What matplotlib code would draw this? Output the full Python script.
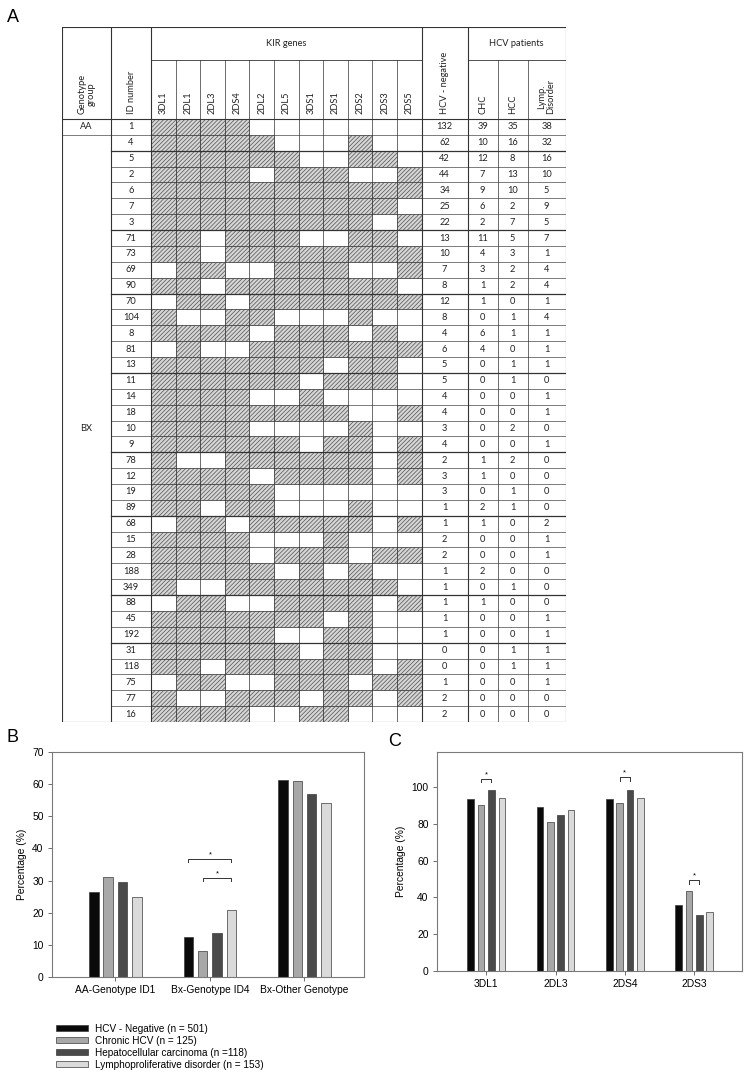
import matplotlib
matplotlib.use("Agg")
import matplotlib.pyplot as plt
from matplotlib.patches import Rectangle
import numpy as np

# ---- panel A data ----
genes = ["3DL1", "2DL1", "2DL3", "2DS4", "2DL2", "2DL5", "3DS1", "2DS1", "2DS2", "2DS3", "2DS5"]
id_numbers = [1, 4, 5, 2, 6, 7, 3, 71, 73, 69, 90, 70, 104, 8, 81, 13, 11, 14, 18, 10,
              9, 78, 12, 19, 89, 68, 15, 28, 188, 349, 88, 45, 192, 31, 118, 75, 77, 16]
# one string per ID row, 1 = gene present (hatched cell)
gene_presence = [
    "11110000000", "11111000100", "11111100110", "11110111001", "11111111111",
    "11111111110", "11111111101", "11011100110", "11011111111", "01100111001",
    "11011111110", "01101111111", "10011000100", "11110111010", "01001111111",
    "11111110110", "11111101110", "11110010000", "11111111001", "11110000100",
    "11111101101", "10011111101", "11110111101", "11111000000", "11011000100",
    "01101111101", "11110001000", "11110111011", "11111010100", "10011111110",
    "01100111101", "11111110100", "11111001100", "11111101100", "11011111101",
    "01100111011", "10011101101", "11110011000",
]
hcv_negative = [132, 62, 42, 44, 34, 25, 22, 13, 10, 7, 8, 12, 8, 4, 6, 5, 5, 4, 4, 3,
                4, 2, 3, 3, 1, 1, 2, 2, 1, 1, 1, 1, 1, 0, 0, 1, 2, 2]
chc = [39, 10, 12, 7, 9, 6, 2, 11, 4, 3, 1, 1, 0, 6, 4, 0, 0, 0, 0, 0,
       0, 1, 1, 0, 2, 1, 0, 0, 2, 0, 1, 0, 0, 0, 0, 0, 0, 0]
hcc = [35, 16, 8, 13, 10, 2, 7, 5, 3, 2, 2, 0, 1, 1, 0, 1, 1, 0, 0, 2,
       0, 2, 0, 1, 1, 0, 0, 0, 0, 1, 0, 0, 0, 1, 1, 0, 0, 0]
lymp = [38, 32, 16, 10, 5, 9, 5, 7, 1, 4, 4, 1, 4, 1, 1, 1, 0, 1, 1, 0,
        1, 0, 0, 0, 0, 2, 1, 1, 0, 0, 0, 1, 1, 1, 1, 1, 0, 0]
thick_after = [4, 3, 90, 13, 9, 89, 349, 192]

# ---- panel B data ----
b_groups = ["AA-Genotype ID1", "Bx-Genotype ID4", "Bx-Other Genotype"]
b_hcv_neg = [26.3, 12.4, 61.3]
b_chc = [31.2, 8.0, 60.9]
b_hcc = [29.7, 13.6, 56.8]
b_lymp = [24.8, 20.9, 54.2]
b_sig = [(1, 0, 3, 36.8), (1, 1, 3, 30.9)]   # group, bar a, bar b, height

# ---- panel C data ----
c_genes = ["3DL1", "2DL3", "2DS4", "2DS3"]
c_hcv_neg = [93.4, 89.2, 93.6, 36.1]
c_chc = [90.4, 80.8, 91.2, 43.2]
c_hcc = [98.3, 84.7, 98.3, 30.5]
c_lymp = [94.1, 87.6, 94.1, 32.0]
c_sig = [(0, 1, 2, 104.5), (2, 1, 2, 105.5), (3, 1, 2, 49.5)]

series_labels = ["HCV - Negative (n = 501)", "Chronic HCV (n = 125)",
                 "Hepatocellular carcinoma (n =118)", "Lymphoproliferative disorder (n = 153)"]
series_colors = ["#0a0a0a", "#a8a8a8", "#4a4a4a", "#dadada"]

plt.rcParams["font.family"] = ["Liberation Sans", "DejaVu Sans"]
plt.rcParams["hatch.linewidth"] = 0.5

W, H = 750, 1089
fig = plt.figure(figsize=(7.5, 10.89), dpi=100)

def fx(px):
    return px / W

def fy(py):
    return 1 - py / H

# ================= A: table =================
col_w = [49, 40] + [24.6] * len(genes) + [46, 30, 30, 38]
edges = np.concatenate([[0], np.cumsum(col_w)])
n_rows = len(id_numbers)
head_h = 92
sub_h = 33
row_h = (722 - 27 - head_h) / n_rows
tab_w = edges[-1]
tab_h = head_h + n_rows * row_h

axt = fig.add_axes([fx(62), fy(27 + tab_h), fx(tab_w), tab_h / H])
axt.set_xlim(0, tab_w)
axt.set_ylim(tab_h, 0)
axt.axis("off")

tfont = dict(family=["Lato", "DejaVu Sans"], fontsize=6.7, color="#222222")
lc = "#333333"
g0 = 2
g1 = 2 + len(genes)

# hatched cells
for i, row in enumerate(gene_presence):
    for j, flag in enumerate(row):
        if flag == "1":
            axt.add_patch(Rectangle((edges[g0 + j], head_h + i * row_h), col_w[g0 + j], row_h,
                                    facecolor="#d6d6d6", edgecolor="#505050", hatch="////////",
                                    linewidth=0.5, linestyle=(0, (1, 1))))

# outer frame and header lines
axt.plot([0, tab_w], [0, 0], color=lc, lw=0.8)
axt.plot([0, tab_w], [head_h, head_h], color=lc, lw=0.8)
axt.plot([0, tab_w], [tab_h, tab_h], color=lc, lw=0.8)
axt.plot([edges[g0], edges[g1]], [sub_h, sub_h], color=lc, lw=0.6)
axt.plot([edges[g1 + 1], tab_w], [sub_h, sub_h], color=lc, lw=0.6)
for k in [0, 1, g0, g1, g1 + 1, len(col_w)]:
    axt.plot([edges[k], edges[k]], [0, tab_h], color=lc, lw=0.8)
for k in list(range(g0 + 1, g1)) + [g1 + 2, g1 + 3]:
    axt.plot([edges[k], edges[k]], [sub_h, tab_h], color=lc, lw=0.5)

# row lines
for i in range(1, n_rows):
    y = head_h + i * row_h
    x_start = 0 if i == 1 else edges[1]
    lw = 0.9 if id_numbers[i - 1] in thick_after else 0.45
    axt.plot([x_start, tab_w], [y, y], color=lc, lw=lw)

# header text
axt.text((edges[g0] + edges[g1]) / 2, sub_h / 2, "KIR genes", ha="center", va="center", **tfont)
axt.text((edges[g1 + 1] + tab_w) / 2, sub_h / 2, "HCV patients", ha="center", va="center", **tfont)
rot_labels = ["Genotype\ngroup", "ID number"] + genes + ["HCV - negative", "CHC", "HCC", "Lymp.\nDisorder"]
for k, lab in enumerate(rot_labels):
    axt.text((edges[k] + edges[k + 1]) / 2, head_h - 5, lab, rotation=90,
             ha="center", va="bottom", multialignment="center", linespacing=1.0, **tfont)

# genotype group labels
axt.text(edges[1] / 2, head_h + 0.5 * row_h, "AA", ha="center", va="center", **tfont)
axt.text(edges[1] / 2, head_h + (1 + (n_rows - 1) / 2) * row_h, "BX", ha="center", va="center", **tfont)

# row values
for i in range(n_rows):
    yc = head_h + (i + 0.5) * row_h
    vals = [id_numbers[i], hcv_negative[i], chc[i], hcc[i], lymp[i]]
    cols = [1, g1, g1 + 1, g1 + 2, g1 + 3]
    for v, k in zip(vals, cols):
        axt.text((edges[k] + edges[k + 1]) / 2, yc, str(v), ha="center", va="center", **tfont)

# ================= bar panels =================
def style_axes(ax):
    for s in ax.spines.values():
        s.set_color("#7a7a7a")
        s.set_linewidth(0.8)
    ax.tick_params(axis="both", labelsize=7.4, length=3, width=0.6, color="#555555", pad=3)

def draw_bars(ax, series, step, width):
    n = len(series[0])
    x = np.arange(n)
    offs = (np.arange(4) - 1.5) * step
    for s, vals in enumerate(series):
        ax.bar(x + offs[s], vals, width=width, color=series_colors[s],
               edgecolor="#3a3a3a", linewidth=0.5, label=series_labels[s])
    return x, offs

def draw_sig(ax, x, offs, sig, tip):
    for g, a, b, h in sig:
        xa, xb = x[g] + offs[a], x[g] + offs[b]
        ax.plot([xa, xa, xb, xb], [h - tip, h, h, h - tip], color="#333333", lw=0.7)
        ax.text((xa + xb) / 2, h + tip * 0.2, "*", ha="center", va="bottom", fontsize=5.5)

# B
axb = fig.add_axes([fx(52), fy(977), fx(364 - 52), (977 - 752) / H])
xb, offb = draw_bars(axb, [b_hcv_neg, b_chc, b_hcc, b_lymp], 0.152, 0.1)
draw_sig(axb, xb, offb, b_sig, 1.0)
axb.set_xlim(-0.67, 2.63)
axb.set_ylim(0, 70)
axb.set_yticks(range(0, 71, 10))
axb.set_xticks(xb)
axb.set_xticklabels(b_groups)
axb.set_ylabel("Percentage (%)", fontsize=7.4, labelpad=4)
style_axes(axb)
axb.legend(loc="upper left", bbox_to_anchor=(fx(56), fy(1024)), bbox_transform=fig.transFigure,
           frameon=False, fontsize=7.2, handlelength=3.2, handleheight=0.55,
           labelspacing=0.2, handletextpad=0.7, borderpad=0, borderaxespad=0)

# C
axc = fig.add_axes([fx(437), fy(971), fx(742 - 437), (971 - 752) / H])
xc, offc = draw_bars(axc, [c_hcv_neg, c_chc, c_hcc, c_lymp], 0.15, 0.095)
draw_sig(axc, xc, offc, c_sig, 2.0)
axc.set_xlim(-0.71, 3.69)
axc.set_ylim(0, 119)
axc.set_yticks(range(0, 101, 20))
axc.set_xticks(xc)
axc.set_xticklabels(c_genes)
axc.set_ylabel("Percentage (%)", fontsize=7.4, labelpad=4)
style_axes(axc)

# panel letters
for lab, px, py in [("A", 13, 18), ("B", 12, 737), ("C", 395, 742)]:
    fig.text(fx(px), fy(py), lab, fontsize=13, ha="center", va="center")

fig.savefig("out.png", dpi=100)
